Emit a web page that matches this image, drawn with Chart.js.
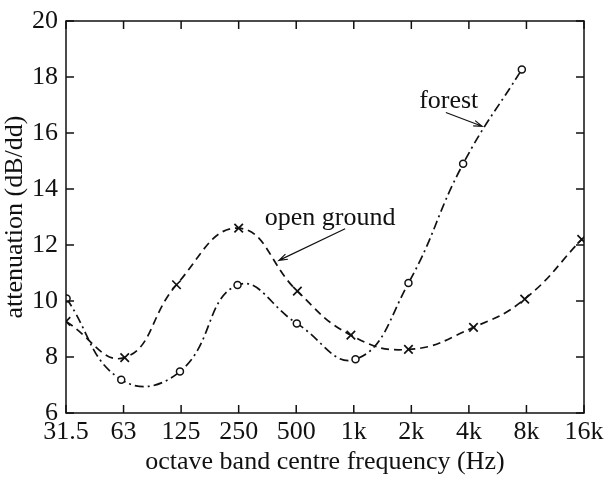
<!DOCTYPE html>
<html><head><meta charset="utf-8">
<script src="https://cdn.jsdelivr.net/npm/chart.js@4/dist/chart.umd.min.js"></script>
<style>html,body{margin:0;padding:0;background:#fff;}#wrap{width:608px;height:480px;}</style>
</head><body><div id="wrap"><canvas id="c" width="608" height="480"></canvas></div>
<script>
// ---- data ----
const bandLabels = ['31.5', '63', '125', '250', '500', '1k', '2k', '4k', '8k', '16k'];
const yTicks = [6, 8, 10, 12, 14, 16, 18, 20];
// positions along the octave-band axis (band index) and attenuation values
const openGroundX = [0, 1.02, 1.92, 3.0, 4.02, 4.95, 5.95, 7.08, 7.97, 8.96];
const openGroundY = [9.27, 7.98, 10.58, 12.6, 10.35, 8.78, 8.27, 9.06, 10.07, 12.2];
const forestX = [0.01, 0.96, 1.98, 2.98, 4.01, 5.03, 5.95, 6.9, 7.92];
const forestY = [10.09, 7.19, 7.48, 10.57, 9.2, 7.92, 10.64, 14.9, 18.27];
const seriesNames = ['open ground', 'forest'];

const FONT = 'Liberation Serif';
const INK = '#111111';

function pts(xs, ys) { return xs.map((x, i) => ({ x: x, y: ys[i] })); }

// annotation labels with arrows, positioned in data units
const notes = [
  { text: seriesNames[0], tx: 4.59, ty: 12.72, from: [4.85, 12.58], to: [3.70, 11.45] },
  { text: seriesNames[1], tx: 6.65, ty: 16.90, from: [6.60, 16.73], to: [7.23, 16.24] }
];

const boxPlugin = {
  id: 'boxTicks',
  afterDatasetsDraw(chart) {
    const { ctx, chartArea: a, scales: { x, y } } = chart;
    ctx.save();
    ctx.strokeStyle = INK;
    ctx.lineWidth = 1.5;
    ctx.strokeRect(a.left, a.top, a.right - a.left, a.bottom - a.top);
    const L = 8;
    ctx.beginPath();
    bandLabels.forEach((_, i) => {
      const px = x.getPixelForValue(i);
      ctx.moveTo(px, a.bottom); ctx.lineTo(px, a.bottom - L);
      ctx.moveTo(px, a.top); ctx.lineTo(px, a.top + L);
    });
    yTicks.forEach(v => {
      const py = y.getPixelForValue(v);
      ctx.moveTo(a.left, py); ctx.lineTo(a.left + L, py);
      ctx.moveTo(a.right, py); ctx.lineTo(a.right - L, py);
    });
    ctx.stroke();
    // annotations
    ctx.fillStyle = INK;
    ctx.font = '26px "' + FONT + '"';
    ctx.textAlign = 'center';
    ctx.textBaseline = 'alphabetic';
    ctx.lineWidth = 1.2;
    notes.forEach(n => {
      ctx.fillText(n.text, x.getPixelForValue(n.tx), y.getPixelForValue(n.ty));
      const x0 = x.getPixelForValue(n.from[0]), y0 = y.getPixelForValue(n.from[1]);
      const x1 = x.getPixelForValue(n.to[0]), y1 = y.getPixelForValue(n.to[1]);
      const ang = Math.atan2(y1 - y0, x1 - x0);
      const h = 9, sp = 0.32;
      ctx.beginPath();
      ctx.moveTo(x0, y0); ctx.lineTo(x1, y1);
      ctx.moveTo(x1 - h * Math.cos(ang - sp), y1 - h * Math.sin(ang - sp));
      ctx.lineTo(x1, y1);
      ctx.lineTo(x1 - h * Math.cos(ang + sp), y1 - h * Math.sin(ang + sp));
      ctx.stroke();
    });
    ctx.restore();
  }
};

new Chart(document.getElementById('c'), {
  type: 'line',
  data: {
    datasets: [
      {
        label: seriesNames[0],
        data: pts(openGroundX, openGroundY),
        borderColor: INK, borderWidth: 1.7, borderDash: [8, 5],
        pointStyle: 'crossRot', pointRadius: 6, pointBorderWidth: 1.7,
        pointBorderColor: INK, pointBackgroundColor: INK,
        tension: 0.45, fill: false
      },
      {
        label: seriesNames[1],
        data: pts(forestX, forestY),
        borderColor: INK, borderWidth: 1.7, borderDash: [9, 4, 2, 4],
        pointStyle: 'circle', pointRadius: 3.5, pointBorderWidth: 1.5,
        pointBorderColor: INK, pointBackgroundColor: '#fff',
        tension: 0.45, fill: false
      }
    ]
  },
  options: {
    responsive: false, animation: false,
    layout: { padding: { top: 15, right: 24, left: 0, bottom: 0 } },
    plugins: { legend: { display: false }, tooltip: { enabled: false } },
    scales: {
      x: {
        type: 'linear', min: 0, max: 9,
        afterBuildTicks: s => { s.ticks = bandLabels.map((_, i) => ({ value: i })); },
        afterFit: s => { s.height = 67; },
        ticks: {
          callback: v => bandLabels[v], autoSkip: false, maxRotation: 0,
          font: { family: FONT, size: 26 }, color: INK, padding: 4
        },
        grid: { display: false, drawTicks: false },
        border: { display: false },
        title: {
          display: true, text: 'octave band centre frequency (Hz)',
          font: { family: FONT, size: 26 }, color: INK, padding: { top: 0, bottom: 2 }
        }
      },
      y: {
        min: 6, max: 20,
        afterBuildTicks: s => { s.ticks = yTicks.map(v => ({ value: v })); },
        afterFit: s => { s.width = 66; },
        ticks: { font: { family: FONT, size: 26, lineHeight: 1 }, color: INK, padding: 8 },
        grid: { display: false, drawTicks: false },
        border: { display: false },
        title: {
          display: true, text: 'attenuation (dB/dd)',
          font: { family: FONT, size: 26 }, color: INK, padding: { top: 0, bottom: 0 }
        }
      }
    }
  },
  plugins: [boxPlugin]
});
</script>
</body></html>
